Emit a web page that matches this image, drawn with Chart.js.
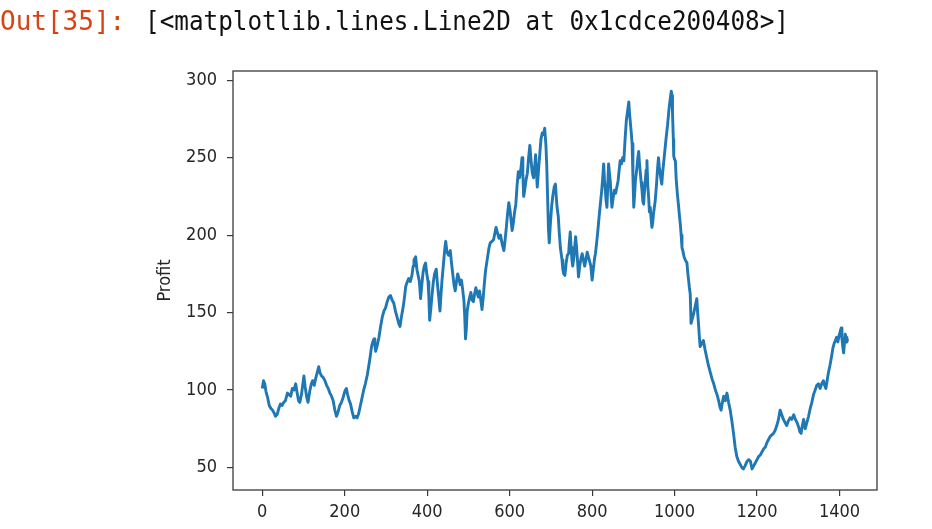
<!DOCTYPE html>
<html>
<head>
<meta charset="utf-8">
<script src="https://cdn.jsdelivr.net/npm/chart.js@4"></script>
<style>
  html, body { margin: 0; padding: 0; background: #fff; width: 932px; height: 529px; overflow: hidden; }
  #wrap { position: absolute; left: 0; top: 0; width: 932px; height: 529px; }
  .out { position: absolute; top: 6px; font-family: "DejaVu Sans Mono", monospace; font-size: 26px; white-space: pre; transform-origin: 0 0; line-height: 30px; }
  #prompt { left: 0; color: #D84315; transform: scaleX(1.0); }
  #repr { left: 145px; color: #111; transform: scaleX(0.935); }
</style>
</head>
<body>
<div id="wrap"><canvas id="c" width="932" height="529"></canvas></div>
<div class="out" id="prompt">Out[35]:</div>
<div class="out" id="repr">[&lt;matplotlib.lines.Line2D at 0x1cdce200408&gt;]</div>
<script>
const steps = [0,3,6,9,13,17,21,25,29,32,36,40,44,48,52,56,61,65,69,73,77,81,84,88,91,95,98,101,104,108,111,115,119,122,126,130,134,137,140,144,148,152,156,160,164,168,172,176,180,184,188,192,196,200,204,207,211,214,218,222,226,230,234,238,242,246,
250,255,258,262,265,268,271,273,275,277,279,283,287,291,295,299,303,307,311,315,319,323,327,331,334,338,342,345,348,352,355,359,363,366,368,372,375,378,381,384,387,390,393,396,399,402,404,406,409,412,415,418,422,425,428,431,433,436,440,443,445,448,452,456,
459,462,465,468,471,474,477,480,483,486,489,491,493,495,497,500,503,506,509,512,515,518,521,524,527,530,533,536,539,542,546,550,553,557,561,564,567,570,574,578,582,586,589,592,595,598,601,604,606,609,612,615,618,621,624,627,630,632,634,637,640,643,646,649,652,655,658,661,663,665,667,670,673,676,679,682,685,688,690,692,694,696,699,702,705,708,
711,713,715,718,720,723,725,727,729,731,734,737,740,743,745,747,749,751,753,756,758,760,762,764,767,770,773,776,779,782,785,788,791,794,797,800,803,806,808,811,814,817,820,823,826,828,830,832,834,836,838,840,842,844,846,848,851,854,857,860,863,866,868,871,874,877,880,883,886,889,891,893,895,897,899,901,903,905,908,911,913,915,917,919,921,923,925,927,929,931,933,935,937,939,941,943,945,947,949,951,953,956,959,961,963,965,967,969,971,974,977,980,983,986,989,992,994,995,997,998,
1000,1002,1004,1007,1010,1012,1014,1016,1018,1020,1023,1026,1030,1032,1034,1036,1038,1040,1043,1046,1050,1054,1056,1058,1060,1062,1066,1070,1074,1078,1082,1087,1091,1095,1099,1103,1107,1110,1113,1116,1119,1123,1127,1131,1135,1139,1143,1147,1151,1155,1159,1163,1167,1171,1176,1180,1184,1188,1192,1196,
1200,1204,1208,1212,1216,1220,1224,1228,1232,1236,1240,1244,1248,1252,1256,1260,1264,1268,1272,1276,1280,1284,1289,1293,1297,1301,1304,1307,1310,1313,1317,1321,1325,1329,1333,1337,1341,1345,1349,1353,1357,1361,1364,1367,1370,1373,1377,1381,1384,1387,1390,1393,1396,1399,1402,1404,1406,1408,1410,1412,1414,1416,1418,1420];

const profit = [101,106,104,99,95,90,88,87,85,83,84,88,91,90,92,93,98,97,96,101,100,104,99,93,92,97,103,109,102,95,92,99,104,106,103,108,112,115,111,109,108,106,103,101,98,96,93,87,83,86,90,92,95,99,101,97,93,91,86,82,83,82,85,90,95,100,
104,110,115,122,128,131,133,129,125,127,129,134,141,147,151,153,157,160,161,158,156,151,147,143,141,148,154,160,167,170,172,170,174,180,184,186,178,174,170,159,168,176,180,182,175,170,160,145,153,162,170,175,178,168,160,151,160,171,183,192,196,189,187,190,
182,175,168,164,170,175,172,168,171,165,158,148,133,140,151,156,160,163,158,157,162,166,163,160,164,158,152,160,170,178,185,192,195,196,197,201,205,202,198,200,194,190,197,205,214,221,216,208,203,208,215,220,232,241,237,242,250,240,225,230,236,240,250,258,248,240,237,245,252,240,231,242,252,262,266,265,269,258,245,225,205,195,208,219,226,231,
233,225,218,212,203,192,188,184,178,175,174,182,187,188,196,202,192,184,180,186,193,199,193,186,173,180,185,188,184,180,184,189,186,183,180,171,178,185,188,195,203,212,220,228,238,246,236,229,222,218,232,246,240,235,226,218,224,229,227,231,235,243,248,246,250,248,262,274,280,286,278,272,266,259,238,218,226,235,242,250,254,246,240,234,229,222,220,228,235,242,248,232,225,215,218,211,205,208,214,218,222,232,244,250,244,240,236,233,240,248,256,264,271,280,287,293,290,279,262,251,
249,248,236,226,218,212,207,200,192,190,186,184,182,176,171,166,162,143,146,149,154,159,150,143,135,128,130,132,126,121,116,111,107,104,100,97,93,89,87,92,96,93,98,92,87,80,72,63,57,54,52,50,49,51,54,55,54,49,51,53,
55,57,58,60,62,63,66,68,70,71,72,74,77,81,87,84,81,79,77,80,82,81,84,81,79,76,73,72,77,81,75,79,83,88,92,97,100,103,104,101,104,106,103,101,106,111,116,122,127,130,132,134,131,135,138,140,133,128,124,130,136,134,131,133];

const xTicks = [0, 200, 400, 600, 800, 1000, 1200, 1400];
const yTicks = [50, 100, 150, 200, 250, 300];
const yTitle = 'Profit';

const points = steps.map((x, i) => ({ x: x, y: profit[i] }));
const FONT = '"DejaVu Sans Condensed", "DejaVu Sans", sans-serif';

const framePlugin = {
  id: 'frame',
  afterDatasetsDraw(chart) {
    const { ctx, chartArea: a } = chart;
    ctx.save();
    ctx.strokeStyle = '#3a3a3a';
    ctx.lineWidth = 1.3;
    ctx.strokeRect(a.left, a.top, a.right - a.left, a.bottom - a.top);
    ctx.restore();
  }
};

new Chart(document.getElementById('c'), {
  type: 'line',
  data: {
    datasets: [{
      data: points,
      borderColor: '#1f77b4',
      borderWidth: 2.9,
      pointRadius: 0,
      tension: 0,
      fill: false,
      borderJoinStyle: 'round'
    }]
  },
  options: {
    responsive: false,
    animation: false,
    events: [],
    layout: { padding: { left: 153, top: 71, right: 55, bottom: 0 } },
    plugins: { legend: { display: false }, tooltip: { enabled: false } },
    scales: {
      x: {
        type: 'linear',
        min: -71,
        max: 1491,
        afterBuildTicks: s => { s.ticks = xTicks.map(v => ({ value: v })); },
        afterFit: s => { s.height = 39; },
        grid: { drawOnChartArea: false, drawTicks: true, tickLength: 6, color: '#3a3a3a', lineWidth: 1.2 },
        border: { display: false },
        ticks: { padding: 6, color: '#262626', font: { family: FONT, size: 18 }, maxRotation: 0, autoSkip: false, callback: v => String(v) }
      },
      y: {
        type: 'linear',
        min: 35.4,
        max: 306,
        afterBuildTicks: s => { s.ticks = yTicks.map(v => ({ value: v })); },
        afterFit: s => { s.width = 80; },
        grid: { drawOnChartArea: false, drawTicks: true, tickLength: 6, color: '#3a3a3a', lineWidth: 1.2 },
        border: { display: false },
        ticks: { padding: 10, color: '#262626', font: { family: FONT, size: 18 }, autoSkip: false, callback: v => String(v) },
        title: { display: true, text: yTitle, color: '#262626', padding: { top: 2, bottom: 0 }, font: { family: FONT, size: 18 } }
      }
    }
  },
  plugins: [framePlugin]
});
</script>
</body>
</html>
